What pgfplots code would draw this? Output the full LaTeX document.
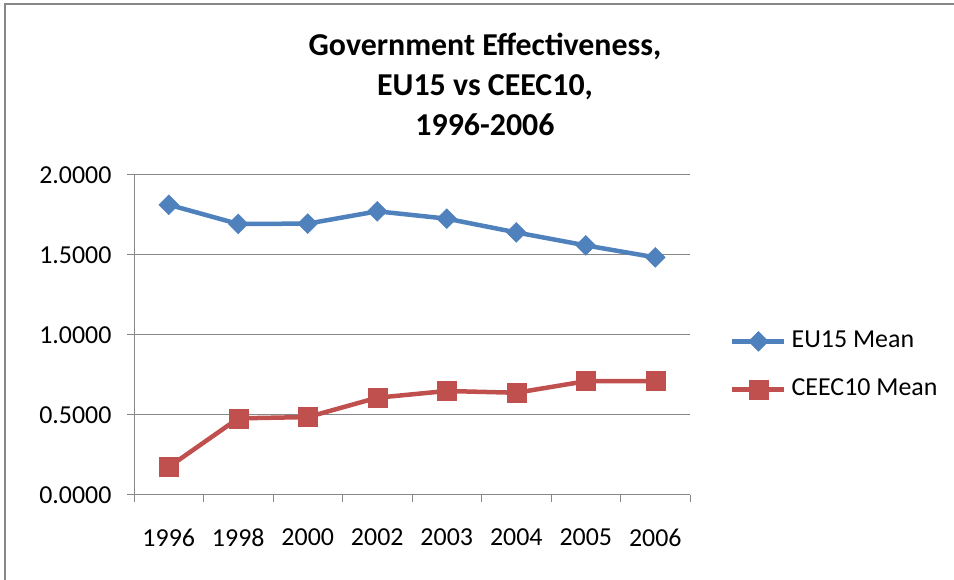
\documentclass[border=0pt]{standalone}
\usepackage{pgfplots}
\pgfplotsset{compat=1.18}
\usepackage{fontspec}
\setmainfont{Carlito}
\definecolor{eublue}{HTML}{4F81BD}
\definecolor{cered}{HTML}{C0504D}
\definecolor{axgray}{HTML}{878787}
\begin{document}
\begin{tikzpicture}[x=1bp,y=1bp]
\useasboundingbox (0,0) rectangle (954,580);
\draw[line width=2bp, color=axgray] (5,-5) -- (5,576) -- (960,576);
\node[font=\fontsize{32}{38}\selectfont\bfseries, anchor=base] at (485,524) {Government Effectiveness,};
\node[font=\fontsize{32}{38}\selectfont\bfseries, anchor=base] at (485,484) {EU15 vs CEEC10,};
\node[font=\fontsize{32}{38}\selectfont\bfseries, anchor=base] at (485,444) {1996-2006};
\begin{axis}[
  at={(134bp,85bp)}, anchor=south west, scale only axis,
  width=556bp, height=320bp,
  xmin=-0.5, xmax=7.5, ymin=0, ymax=2,
  axis x line*=bottom, axis y line*=left,
  axis line style={draw=axgray, line width=1bp, -},
  xtick={0,...,7},
  xticklabels={1996,1998,2000,2002,2003,2004,2005,2006},
  minor xtick={-0.5,0.5,...,7.5},
  ytick={0,0.5,...,2},
  tick align=outside,
  major tick length=7bp, minor tick length=7bp,
  major x tick style={draw=none},
  minor x tick style={draw=axgray, line width=1bp},
  major y tick style={draw=axgray, line width=1bp},
  ymajorgrids, major grid style={draw=axgray, line width=1bp},
  /pgf/number format/assume math mode=true,
  y tick label style={/pgf/number format/.cd, fixed, fixed zerofill, precision=4, /tikz/.cd, xshift=-12bp},
  x tick label style={yshift=-23bp},
  tick label style={font=\fontsize{26}{31}\selectfont, text=black},
  legend style={at={(axis description cs:1.0719,0.405)}, anchor=west, draw=none, fill=none,
    inner sep=0pt, row sep=24bp, font=\fontsize{26}{31}\selectfont,
    nodes={inner sep=0pt, text height=18bp, text depth=6bp}},
  legend image code/.code={\draw[mark repeat=2,mark phase=2,#1] plot coordinates {(0bp,0bp) (26bp,0bp) (52bp,0bp)};},
  legend cell align=left,
]
\addplot[color=eublue, line width=4.5bp, mark=square*, mark size=7bp, mark options={solid, line width=0.5bp, rotate=45}]
  coordinates {(0,1.814) (1,1.694) (2,1.696) (3,1.773) (4,1.727) (5,1.641) (6,1.560) (7,1.485)};
\addlegendentry{\hspace{5bp}EU15 Mean}
\addplot[color=cered, line width=4.5bp, mark=square*, mark size=9.5bp, mark options={solid, line width=0.5bp}]
  coordinates {(0,0.175) (1,0.479) (2,0.487) (3,0.608) (4,0.650) (5,0.639) (6,0.711) (7,0.711)};
\addlegendentry{\hspace{5bp}CEEC10 Mean}
\end{axis}
\end{tikzpicture}
\end{document}
